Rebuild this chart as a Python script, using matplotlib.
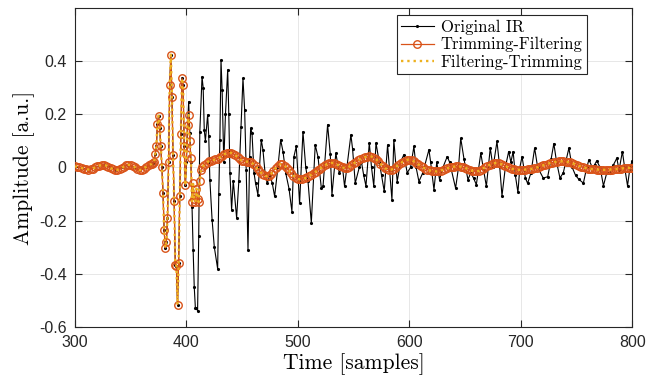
import matplotlib
matplotlib.use('Agg')
import matplotlib.pyplot as plt

plt.rcParams['font.family'] = 'Liberation Sans'

# Original impulse response (sample index, amplitude)
orig_t = [300, 306, 312, 318, 325, 331, 337, 343, 348, 353, 358, 364, 368,
          370, 371, 372, 373, 374, 375, 376, 377, 378, 379, 380, 381, 382, 383,
          384, 385, 386, 387, 388, 389, 390, 391, 392, 393, 394, 395, 396, 397,
          398, 399, 400, 401, 402, 403, 404, 405, 406, 407, 408, 409, 410, 411,
          412, 414, 415, 416, 417, 419, 420, 421, 423, 425, 428, 429, 430, 431,
          432, 433.5, 435, 437, 438, 439, 440.5, 442, 445, 447, 449, 450.7, 452.2,
          453.6, 455.2, 456.7, 457.6, 458.8, 460.6, 462, 464.1, 465.5, 467.1,
          468.6, 470.5, 472.4, 475, 477, 479.1, 482, 484.5, 486.6, 489, 492,
          494.6, 496.4, 498.5, 501.5, 504.5, 507, 509, 512, 515.5, 518, 521,
          522.5, 526.6, 529, 530.5, 534, 537, 540, 541.8, 547.5, 549, 551.4,
          555, 557, 559, 561, 564, 566, 568, 570, 573, 575, 577.4, 580.4, 582,
          584.3, 586, 589, 592, 595, 598, 601, 604, 606, 608.5, 612, 617.5, 619,
          622, 624.5, 627, 630, 633.9, 636, 641.4, 644, 646, 649, 652.5, 655,
          657.5, 660, 664, 666.5, 669, 672.5, 675, 678.5, 681, 683, 686, 689,
          691, 693, 695, 697.3, 699, 701, 704, 706, 709, 712.3, 715, 720, 724,
          727, 729.5, 732, 735, 738, 743, 746, 749, 752, 756, 759, 761, 764,
          766, 768, 771, 774, 777, 780, 783, 786, 788, 791, 793, 795.6, 797.5,
          799.5]
orig_a = [0.004, -0.002, -0.008, 0.0, 0.009, 0.002, -0.009, 0.0, 0.01, 0.0, -0.01, 0.003, 0.012,
          0.015, 0.02, 0.05, 0.079, 0.164, 0.195, 0.15, 0.079, 0.0, -0.096, -0.237, -0.303, -0.282, -0.19,
          0.02, 0.309, 0.425, 0.267, 0.048, -0.128, -0.366, -0.37, -0.517, -0.36, -0.109, 0.126, 0.336, 0.311,
          0.079, -0.068, 0.02, 0.16, 0.248, 0.13, 0.02, -0.15, -0.31, -0.45, -0.528, -0.53, -0.54, -0.26,
          0.135, 0.342, 0.30, 0.14, 0.10, 0.198, 0.12, -0.046, -0.197, -0.30, -0.382, -0.1, 0.104, 0.405,
          0.292, 0.02, 0.2, 0.368, 0.2, -0.02, -0.159, -0.05, -0.19, -0.05, 0.154, 0.336, 0.217,
          -0.009, -0.31, 0.041, 0.148, 0.13, -0.02, -0.06, -0.103, 0.0, 0.104,
          0.067, -0.02, -0.059, -0.03, -0.06, -0.109, 0.0, 0.104, 0.06, -0.02, -0.08,
          -0.166, 0.041, 0.079, -0.134, 0.135, 0.0, -0.05, -0.209, 0.085, 0.04, -0.078,
          -0.071, 0.161, 0.05, -0.103, 0.054, -0.02, 0.0, -0.071, 0.123, 0.07, -0.059,
          0.0, 0.02, -0.03, -0.07, 0.092, 0.0, -0.07, 0.092, 0.02, -0.03, -0.09, 0.085, 0.0,
          -0.122, 0.104, -0.053, 0.02, 0.048, -0.02, 0.0, 0.079, 0.0, -0.053, -0.02, 0.067, 0.02,
          -0.084, 0.02, -0.046, 0.0, 0.041, 0.02, -0.078, 0.0, 0.11, 0.03, -0.046, -0.02,
          -0.04, -0.065, 0.054, -0.01, -0.071, 0.073, 0.0, 0.098, 0.0, -0.107, 0.0, 0.06,
          0.02, 0.06, -0.03, -0.094, 0.0, 0.041, -0.04, -0.06, -0.02, 0.073, 0.0, -0.04, -0.035,
          0.03, 0.09, 0.02, -0.04, -0.02, 0.073, 0.0, -0.03, -0.045, -0.059, 0.0, 0.029, 0.0,
          0.01, 0.025, 0.0, -0.069, -0.02, -0.02, 0.01, 0.035, -0.01, 0.06, 0.0, -0.069, -0.01,
          0.023]

# filtered IR (both orders give practically the same curve)
filt_t = list(range(300, 369, 2)) + list(range(369, 414)) + list(range(414, 801, 2))
filt_a = [0.004, 0.003, 0.001, -0.002, -0.005, -0.007, -0.008, -0.007, -0.004, 0.0,
          0.004, 0.007, 0.009, 0.009, 0.007, 0.003, -0.002, -0.006, -0.009, -0.009,
          -0.006, -0.002, 0.003, 0.008, 0.010, 0.009, 0.005, 0.0, -0.006, -0.010,
          -0.009, -0.004, 0.003, 0.009, 0.012,
          # 369 .. 413, one per sample
          0.012, 0.015, 0.02, 0.05, 0.079, 0.164, 0.195, 0.15, 0.079, 0.0,
          -0.096, -0.237, -0.303, -0.282, -0.19, 0.02, 0.309, 0.425, 0.267, 0.048,
          -0.128, -0.366, -0.37, -0.517, -0.36, -0.109, 0.126, 0.336, 0.311, 0.079,
          -0.068, 0.05, 0.16, 0.198, 0.1, 0.035, -0.13, -0.06, -0.12, -0.13,
          -0.08, -0.12, -0.13, -0.05, -0.01,
          # 414 .. 800, every other sample
          0.0, 0.01, 0.018, 0.023, 0.026, 0.028, 0.030, 0.033, 0.038, 0.044,
          0.050, 0.054, 0.056, 0.055, 0.052, 0.046, 0.038, 0.030, 0.025, 0.023,
          0.022, 0.021, 0.019, 0.013, 0.004, -0.006, -0.016, -0.024, -0.030, -0.033,
          -0.031, -0.024, -0.013, -0.002, 0.007, 0.012, 0.012, 0.007, -0.001, -0.011,
          -0.022, -0.031, -0.038, -0.043, -0.045, -0.044, -0.041, -0.037, -0.032, -0.027,
          -0.022, -0.016, -0.010, -0.004, 0.002, 0.008, 0.012, 0.015, 0.017, 0.017,
          0.014, 0.009, 0.004, 0.0, -0.002, -0.001, 0.003, 0.009, 0.015, 0.021,
          0.027, 0.032, 0.036, 0.039, 0.041, 0.042, 0.041, 0.037, 0.031, 0.023,
          0.014, 0.005, -0.002, -0.007, -0.009, -0.008, -0.004, 0.002, 0.009, 0.016,
          0.022, 0.026, 0.029, 0.029, 0.027, 0.023, 0.018, 0.012, 0.006, 0.001,
          -0.004, -0.008, -0.011, -0.013, -0.014, -0.015, -0.014, -0.012, -0.009, -0.006,
          -0.003, 0.0, 0.002, 0.003, 0.004, 0.004, 0.003, 0.001, -0.002, -0.005,
          -0.009, -0.012, -0.014, -0.015, -0.013, -0.009, -0.004, 0.001, 0.006, 0.010,
          0.014, 0.016, 0.017, 0.016, 0.013, 0.009, 0.005, 0.001, -0.002, -0.005,
          -0.007, -0.008, -0.009, -0.009, -0.009, -0.008, -0.007, -0.006, -0.005, -0.003,
          -0.001, 0.002, 0.005, 0.008, 0.011, 0.014, 0.016, 0.018, 0.020, 0.022,
          0.023, 0.023, 0.023, 0.022, 0.021, 0.019, 0.016, 0.013, 0.010, 0.006,
          0.003, 0.0, -0.002, -0.004, -0.005, -0.006, -0.007, -0.008, -0.008, -0.009,
          -0.009, -0.009, -0.009, -0.008, -0.008, -0.007, -0.006, -0.005, -0.004, -0.003,
          -0.003, -0.002, -0.002, -0.002]

x_ticks = [300, 400, 500, 600, 700, 800]
y_ticks = [-0.6, -0.4, -0.2, 0, 0.2, 0.4]
y_tick_labels = ['-0.6', '-0.4', '-0.2', '0', '0.2', '0.4']

fig = plt.figure(figsize=(6.46, 3.81), dpi=100)
ax = fig.add_axes([0.116, 0.1425, 0.863, 0.836])

ax.plot(orig_t, orig_a, color='black', lw=0.8, marker='.', ms=2.5, label='Original IR', zorder=3)
ax.plot(filt_t, filt_a, color='#D95319', lw=0.9, marker='o', ms=5.4, mfc='none', mew=1.0,
        label='Trimming-Filtering', zorder=4)
ax.plot(filt_t, filt_a, color='#EDB120', ls=':', lw=1.7, label='Filtering-Trimming', zorder=5)

ax.set_xlim(300, 800)
ax.set_ylim(-0.6, 0.6)
ax.set_xticks(x_ticks)
ax.set_yticks(y_ticks)
ax.set_yticklabels(y_tick_labels)
ax.grid(True, color='#e3e3e3', lw=0.6)
ax.set_axisbelow(True)
ax.tick_params(direction='in', length=5, top=True, right=True, labelsize=11.5,
               colors='#262626', pad=6)
for sp in ax.spines.values():
    sp.set_color('#262626')
    sp.set_linewidth(0.8)

ax.set_xlabel('Time [samples]', family='cmr10', fontsize=15.5, labelpad=2)
ax.set_ylabel('Amplitude [a.u.]', family='cmr10', fontsize=15.5, labelpad=3)

leg = ax.legend(loc='upper right', bbox_to_anchor=(0.918, 0.978), borderaxespad=0,
                prop={'family': 'cmr10', 'size': 12}, fancybox=False, edgecolor='#262626',
                framealpha=1, labelspacing=0.15, handlelength=2.0, handletextpad=0.4,
                borderpad=0.25)
leg.get_frame().set_linewidth(0.8)

fig.savefig('out.png', dpi=100)
